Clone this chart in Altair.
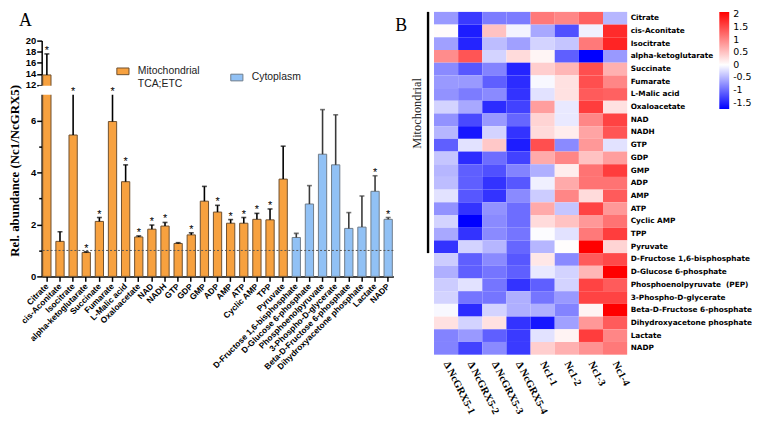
import altair as alt
import pandas as pd

# ---------------- Panel A data ----------------
metabolites = ["Citrate", "cis-Aconitate", "Isocitrate", "alpha-ketoglutarate", "Succinate",
               "Fumarate", "L-Malic acid", "Oxaloacetate", "NAD", "NADH", "GTP", "GDP", "GMP",
               "ADP", "AMP", "ATP", "Cyclic AMP", "TPP", "Pyruvate",
               "D-Fructose 1,6-bisphosphate", "D-Glucose 6-phosphate", "Phosphoenolpyruvate",
               "3-Phospho-D-glycerate", "Beta-D-Fructose 6-phosphate",
               "Dihydroxyacetone phosphate", "Lactate", "NADP"]
compartment = ["Mitochondrial TCA;ETC"] * 19 + ["Cytoplasm"] * 8
rel_abundance = [13.8, 1.35, 5.45, 0.92, 2.12, 5.97, 3.65, 1.52, 1.82, 1.94, 1.27, 1.6, 2.9,
                 2.48, 2.05, 2.05, 2.2, 2.18, 3.75, 1.5, 2.79, 4.71, 4.3, 1.85, 1.9, 3.28, 2.2]
error_top = [17.6, 1.72, 7.8, 0.95, 2.27, 7.8, 4.3, 1.56, 1.98, 2.08, 1.3, 1.68, 3.47,
             2.74, 2.19, 2.27, 2.43, 2.6, 5.02, 1.66, 3.5, 6.43, 6.23, 2.46, 3.1, 3.88, 2.27]
significant = [1, 0, 1, 1, 1, 1, 1, 1, 1, 1, 0, 1, 0, 1, 1, 1, 1, 1, 0, 0, 0, 0, 0, 0, 0, 1, 1]
y_ticks = [0, 1, 2, 3, 4, 5, 6, 12, 14, 16, 18, 20]
axis_break = [7, 12]

# ---------------- Panel B data ----------------
heat_rows = ["Citrate", "cis-Aconitate", "Isocitrate", "alpha-ketoglutarate", "Succinate",
             "Fumarate", "L-Malic acid", "Oxaloacetate", "NAD", "NADH", "GTP", "GDP", "GMP",
             "ADP", "AMP", "ATP", "Cyclic AMP", "TPP", "Pyruvate",
             "D-Fructose 1,6-bisphosphate", "D-Glucose 6-phosphate",
             "Phosphoenolpyruvate \u00a0(PEP)", "3-Phospho-D-glycerate",
             "Beta-D-Fructose 6-phosphate", "Dihydroxyacetone phosphate", "Lactate", "NADP"]
samples = ["\u0394 NcGRX5-1", "\u0394 NcGRX5-2", "\u0394 NcGRX5-3", "\u0394 NcGRX5-4",
           "Nc1-1", "Nc1-2", "Nc1-3", "Nc1-4"]
z_dgrx5_1 = [-0.7, 0.03, -0.65, 0.95, -0.8, -0.7, -0.75, -0.3, -0.75, -0.5, -1.1, -0.4, -0.5,
             -0.45, -0.2, -0.75, -0.3, -0.6, -1.4, -0.35, -0.55, -0.35, -0.3, -0.05, 0.25, -0.85, -0.85]
z_dgrx5_2 = [-1.35, -1.55, -1.5, 1.4, -1.15, -0.7, -0.9, -0.6, -1.25, -1.6, -0.2, -1.45, -1.1,
             -1.1, -1.15, -1.4, -1.75, -1.4, -0.3, -1.1, -1.1, -0.2, -0.95, -1.45, -0.3, -0.7, -1.3]
z_dgrx5_3 = [-0.9, 0.5, -0.45, -0.3, -0.85, -1.1, -0.8, -1.45, -0.7, -0.3, 0.45, -1.0, -1.2,
             -1.4, -1.4, -0.75, -0.8, -0.8, -0.5, -0.8, -0.95, -0.95, -0.95, -0.3, 0.25, -1.1, -0.8]
z_dgrx5_4 = [-0.9, -0.08, -0.65, 0.3, -1.5, -1.45, -1.4, -1.3, -1.05, -1.4, -1.55, -1.3, -0.85,
             -1.15, -0.8, -1.0, -1.0, -0.95, -1.05, -1.15, -1.1, -1.4, -0.55, -0.55, -1.4, -1.35, -1.35]
z_nc1_1 = [1.1, -0.6, -0.3, 0.08, 0.4, -0.05, -0.2, 0.8, 0.35, 0.3, 1.45, 0.7, -0.55,
           -0.1, -0.35, 0.7, 0.3, -0.02, -0.5, 0.2, -0.15, -1.1, -0.95, -0.55, -1.6, -0.2, 0.4]
z_nc1_2 = [1.0, -1.2, -0.4, -1.1, 0.6, 0.25, 0.25, -0.15, -0.15, 0.15, -0.8, 1.0, 0.15,
           0.7, 1.0, -0.4, 0.5, -0.2, 0.02, -0.8, -0.3, -0.3, -0.7, -0.85, -0.65, 0.1, 0.65]
z_nc1_3 = [1.3, -0.1, 1.1, -1.75, 1.45, 1.45, 1.35, 1.6, 1.0, 0.75, 0.85, 0.5, 1.15,
           1.15, 0.3, 1.55, 0.85, 1.1, 2.1, 1.35, 0.6, 1.55, 1.55, 0.1, 0.85, 1.6, 0.9]
z_nc1_4 = [-0.5, 1.75, 1.8, -0.7, 0.65, 1.0, 1.3, 0.25, 1.55, 1.4, -0.2, 0.8, 1.6,
           1.15, 1.35, 0.85, 1.15, 1.6, 0.35, 1.5, 2.1, 1.35, 1.55, 2.1, 1.35, 1.0, 1.1]
heat_columns = [z_dgrx5_1, z_dgrx5_2, z_dgrx5_3, z_dgrx5_4, z_nc1_1, z_nc1_2, z_nc1_3, z_nc1_4]
legend_values = [2, 1.5, 1, 0.5, 0, -0.5, -1, -1.5]

# ---------------- tables ----------------
bars = pd.DataFrame({"name": metabolites, "group": compartment, "value": rel_abundance,
                     "err": error_top, "sig": significant})
heat = pd.DataFrame([{"sample": s, "metabolite": m, "z": v}
                     for s, col in zip(samples, heat_columns) for m, v in zip(heat_rows, col)])

ORANGE = "#F7A13F"
BLUE = "#91C1F5"
GROUPS = ["Mitochondrial TCA;ETC", "Cytoplasm"]
SANS = "Liberation Sans"
SERIF = "Liberation Serif"
BAR_W = 355
BAR_H = 267

# broken axis: piecewise linear scale, 0-7 below the break, 12-20 above it;
# the top 29 px of the view are left free for the panel letter
y_scale = alt.Scale(domain=[0, 7, 12, 20], range=[BAR_H, 83.7, 73.7, 29], nice=False, zero=False)
y_axis = alt.Axis(values=y_ticks,
                  labelExpr="(datum.value < 7 && datum.value % 2 == 1) ? '' : datum.label",
                  tickSize={"condition": {"test": "datum.value < 7 && datum.value % 2 == 1", "value": 3},
                            "value": 5},
                  title="Rel. abundance (Nc1/NcGRX5)", titleFont=SERIF, titleFontSize=13,
                  titleFontWeight="bold", titleColor="black", titleY=160, titlePadding=4,
                  domainColor="black", domainWidth=1.5, tickColor="black", tickWidth=1.5,
                  labelFont=SANS, labelFontWeight="bold", labelFontSize=9.5, labelColor="black",
                  labelPadding=1, grid=False, labelOverlap=False)
x_axis = alt.Axis(title=None, labelAngle=-45, labelAlign="right", labelBaseline="middle",
                  labelFont=SANS, labelFontWeight="bold", labelFontSize=8.5, labelColor="black",
                  labelPadding=3, tickSize=5, tickColor="black", tickWidth=1.5,
                  domainColor="black", domainWidth=1.5, labelOverlap=False, labelLimit=220)
x_scale = alt.Scale(domain=metabolites, paddingInner=0.37, paddingOuter=0.08)


def Y(f):
    return alt.Y(f, scale=y_scale, axis=y_axis)


bar_legend = alt.Legend(title=None, orient="none", legendX=75, legendY=53, direction="horizontal",
                        symbolType="M-1,-0.55H1V0.55H-1Z", symbolSize=150,
                        symbolStrokeColor="#555555", symbolStrokeWidth=1,
                        labelFont=SANS, labelFontSize=10.5, labelColor="#222222", labelOffset=8,
                        columnPadding=28,
                        labelExpr="datum.label == 'Mitochondrial TCA;ETC' ? ['Mitochondrial', 'TCA;ETC'] : datum.label")

base = alt.Chart(bars).encode(x=alt.X("name:N", scale=x_scale, axis=x_axis, sort=metabolites))
err_color = alt.condition("datum.group == 'Cytoplasm'", alt.value("#3a3a3a"), alt.value("#000000"))

bar_layer = base.mark_bar(strokeWidth=1).encode(
    y=Y("value:Q"), y2=alt.datum(0),
    fill=alt.Fill("group:N", scale=alt.Scale(domain=GROUPS, range=[ORANGE, BLUE]), legend=bar_legend),
    stroke=alt.Stroke("group:N", scale=alt.Scale(domain=GROUPS, range=["#6E5030", "#6F7C8A"]), legend=None))
err_layer = base.mark_rule(strokeWidth=1.6).encode(y=Y("value:Q"), y2="err:Q", color=err_color)
cap_layer = base.mark_tick(thickness=1.6, size=5).encode(y=Y("err:Q"), color=err_color)
gap_layer = alt.Chart(pd.DataFrame({"lo": [axis_break[0]], "hi": [axis_break[1] - 0.4]})).mark_rect(
    color="white").encode(y=Y("lo:Q"), y2="hi:Q", x=alt.value(-3), x2=alt.value(BAR_W + 2))
star_layer = (base.mark_text(text="*", fontSize=11, baseline="alphabetic", font=SANS, color="black")
              .transform_filter("datum.sig == 1")
              .transform_calculate(sy="(datum.err > 7 && datum.err < 12) ? 7 : datum.err")
              .encode(y=Y("sy:Q")))
ref_layer = alt.Chart(pd.DataFrame({"ref": [1.0]})).mark_rule(
    strokeDash=[2, 2], color="#555555", strokeWidth=1).encode(y=Y("ref:Q"))
letter_a = alt.Chart(pd.DataFrame({"label": ["A"]})).mark_text(
    font=SERIF, fontSize=18, align="left", baseline="top", color="black").encode(
    x=alt.value(-23), y=alt.value(0), text="label:N")

panel_a = alt.layer(bar_layer, err_layer, cap_layer, gap_layer, star_layer, ref_layer,
                    letter_a).properties(width=BAR_W, height=BAR_H)

# ---------------- heatmap ----------------
hx = alt.Scale(domain=samples, paddingInner=0, paddingOuter=0)
hy = alt.Scale(domain=heat_rows, paddingInner=0, paddingOuter=0)
hx_axis = alt.Axis(title=None, labelAngle=63, labelAlign="left", labelBaseline="middle",
                   labelFont=SERIF, labelFontSize=10.5, labelFontWeight="bold", labelColor="black",
                   labelPadding=7, ticks=False, domain=False, labelOverlap=False)
hy_axis = alt.Axis(title=None, orient="right", labelFont="DejaVu Sans", labelFontWeight="bold",
                   labelFontSize=7.4, labelColor="black", labelPadding=3, ticks=False,
                   domain=False, labelOverlap=False, labelLimit=250)
heat_color = alt.Color(
    "z:Q",
    scale=alt.Scale(domain=[-1.75, 0, 2.1], range=["#0000ff", "#ffffff", "#ff0000"], interpolate="rgb"),
    legend=alt.Legend(title=None, orient="none", legendX=288, legendY=0, direction="vertical",
                      gradientLength=98, gradientThickness=10, gradientStrokeWidth=0,
                      values=legend_values,
                      labelExpr="datum.value < 0 ? '-' + format(-datum.value, '~g') : format(datum.value, '~g')",
                      labelFont="DejaVu Sans", labelFontSize=9.5, labelColor="black", labelOffset=4))

rect = alt.Chart(heat).mark_rect().encode(
    x=alt.X("sample:N", scale=hx, axis=hx_axis),
    y=alt.Y("metabolite:N", scale=hy, axis=hy_axis),
    color=heat_color)
mito = alt.Chart(pd.DataFrame({"label": ["Mitochondrial"], "row": ["NAD"]})).mark_text(
    angle=270, font=SERIF, fontSize=12.5, color="#222222").encode(
    x=alt.value(-17), y=alt.Y("row:N", scale=hy, axis=hy_axis, bandPosition=0), text="label:N")
bracket = alt.Chart(pd.DataFrame({"start": ["Citrate"], "end": ["D-Fructose 1,6-bisphosphate"]})).mark_rule(
    color="black", strokeWidth=2.4).encode(
    x=alt.value(-6), y=alt.Y("start:N", scale=hy, axis=hy_axis, bandPosition=0),
    y2=alt.Y2("end:N", bandPosition=0))
panel_b = alt.Chart(pd.DataFrame({"label": ["B"]})).mark_text(
    font=SERIF, fontSize=18, align="left", baseline="top", color="black").encode(
    x=alt.value(-39), y=alt.value(5), text="label:N")

heatmap = alt.layer(rect, mito, bracket, panel_b).properties(width=195, height=346)

chart = alt.hconcat(panel_a, heatmap, spacing=0).resolve_scale(
    color="independent", fill="independent", stroke="independent").resolve_legend(
    color="independent", fill="independent").properties(
    padding=0, background="white").configure_view(stroke=None)

chart.save("out.html", embed_options={"renderer": "svg", "actions": False})
